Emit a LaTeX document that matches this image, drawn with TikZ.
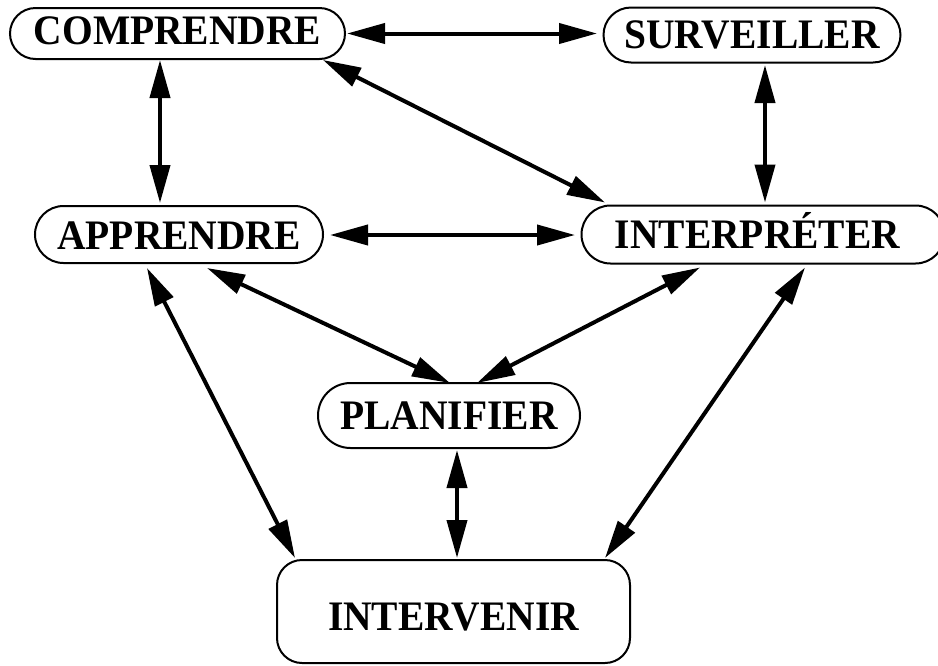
\documentclass[tikz,border=0pt]{standalone}
\usepackage{fontspec}
\setmainfont{Liberation Serif}[FakeStretch=0.94]
\usetikzlibrary{arrows.meta}
\begin{document}
\begin{tikzpicture}[x=1pt,y=-1pt,
  stadium/.style={draw, line width=2pt, inner sep=0pt, text height=27.5pt, text depth=0pt,
    font=\fontsize{42}{42}\selectfont\bfseries},
  arr/.style={line width=4pt, {Triangle[length=38pt,width=20pt]}-{Triangle[length=38pt,width=20pt]}}]
\path[use as bounding box, clip] (0,0) rectangle (938,665);

\node[stadium, minimum width=335pt, minimum height=51pt, rounded corners=25.5pt, text height=22.5pt] (comp) at (177.5,33.5) {COMPRENDRE};
\node[stadium, minimum width=297pt, minimum height=55pt, rounded corners=27.5pt] (surv) at (752,35) {SURVEILLER};
\node[stadium, minimum width=288pt, minimum height=57pt, rounded corners=28.5pt, text height=30.5pt] (appr) at (179,234.5) {APPRENDRE};
\node[stadium, minimum width=363pt, minimum height=58pt, rounded corners=29pt, xshift=0pt] (interp) at (763,234.5) {\hspace*{-11pt}INTERPRÉTER};
\node[stadium, minimum width=262pt, minimum height=65pt, rounded corners=32.5pt] (plan) at (449,415.5) {PLANIFIER};
\node[stadium, minimum width=353pt, minimum height=103pt, rounded corners=25pt, text height=37.5pt] (interv) at (453.5,611.5) {INTERVENIR};

\draw[arr] ([shift={(169.5,0)}]comp.center) -- ([shift={(-155,-1.5)}]surv.center);
\draw[arr] ([shift={(-17.5,26.5)}]comp.center) -- ([shift={(-19,-31.5)}]appr.center);
\draw[arr] ([shift={(145.5,26.5)}]comp.center) -- ([shift={(-158,-32)}]interp.center);
\draw[arr] ([shift={(13,30)}]surv.center) -- ([shift={(2,-32)}]interp.center);
\draw[arr] ([shift={(151,0.5)}]appr.center) -- ([shift={(-188,0.5)}]interp.center);
\draw[arr] ([shift={(28,33.5)}]appr.center) -- ([shift={(1,-32.5)}]plan.center);
\draw[arr] ([shift={(-63,33)}]interp.center) -- ([shift={(28,-32.5)}]plan.center);
\draw[arr] ([shift={(-32,33.5)}]appr.center) -- ([shift={(-158.5,-53.5)}]interv.center);
\draw[arr] ([shift={(42,33)}]interp.center) -- ([shift={(151.5,-53.5)}]interv.center);
\draw[arr] ([shift={(8,34.5)}]plan.center) -- ([shift={(3.5,-53.5)}]interv.center);
\end{tikzpicture}
\end{document}
